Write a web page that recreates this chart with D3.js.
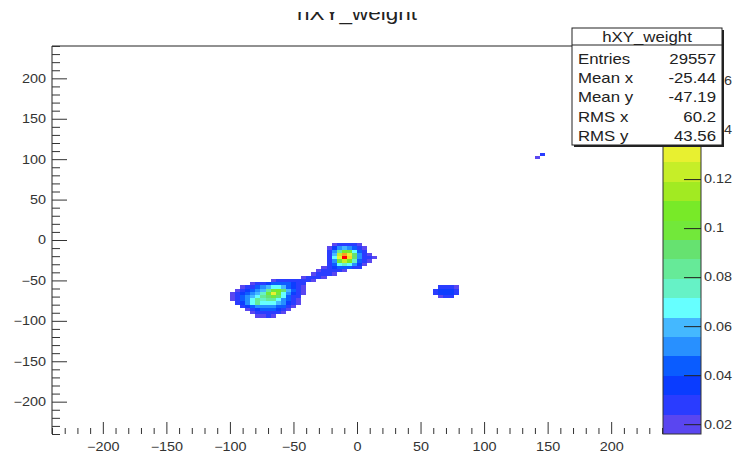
<!DOCTYPE html>
<html><head><meta charset="utf-8">
<script src="https://cdn.jsdelivr.net/npm/d3@7"></script>
<style>body{margin:0;background:#fff}svg{display:block}text{font-family:"Liberation Sans",Arial,Helvetica,sans-serif}</style>
</head><body>
<svg id="c" width="735" height="453"></svg>
<script>
// ---------- data ----------
const chartTitle = "hXY_weight";
const xTickValues = [-200,-150,-100,-50,0,50,100,150,200];
const yTickValues = [-200,-150,-100,-50,0,50,100,150,200];
const zTickValues = [0.02,0.04,0.06,0.08,0.1,0.12,0.14,0.16];
const zRange = [0.016, 0.1743];
const palette = ["#5a46f0","#2a3cff","#0a3cff","#0a5cff","#2890ff","#44b8ff","#66ffff","#66f2c6",
                 "#66ea98","#66e270","#72e83a","#78ea28","#a2ea22","#c6ee28","#e8f030","#f8d828",
                 "#f8a020","#f87818","#f83c10","#ff0000"];
const statsLabels = ["Entries","Mean x","Mean y","RMS x","RMS y"];
const statsValues = ["29557","-25.44","-47.19","60.2","43.56"];
const binWidth = 4;
// each row: lower y edge of the bin row, lower x edge of the first bin, bin contents
const rowY  = [-8,-12,-16,-20,-24,-28,-32,-36,-40,
               -44,-48,
               -52,-56,-60,-64,-68,-72,-76,-80,-84,-88,-92,-96,
               -60,-64,-68,-72,
               104,100];
const rowX0 = [-20,-24,-24,-24,-24,-24,-24,-28,-32,
               -36,-44,
               -68,-84,-92,-96,-100,-100,-100,-96,-92,-88,-84,-80,
               64,60,60,64,
               144,140];
const rowVals = [
  [0.02,0.028,0.03,0.03,0.025,0.02],
  [0.02,0.035,0.05,0.06,0.055,0.04,0.03,0.02],
  [0.028,0.05,0.085,0.11,0.10,0.07,0.04,0.025],
  [0.03,0.06,0.12,0.15,0.13,0.09,0.05,0.028,0.02],
  [0.03,0.065,0.13,0.172,0.14,0.095,0.055,0.03,0.025,0.02],
  [0.028,0.055,0.10,0.12,0.11,0.075,0.045,0.028,0.02],
  [0.025,0.04,0.065,0.075,0.07,0.05,0.035,0.02],
  [0.02,0.03,0.035,0.045,0.045,0.04,0.03,0.025],
  [0.02,0.028,0.03,0.028,0.025,0.02],
  [0.02,0.028,0.03,0.025,0.02],
  [0.02,0.028,0.03,0.028,0.02],
  [0.02,0.025,0.028,0.03,0.03,0.03,0.03,0.028,0.02],
  [0.02,0.025,0.03,0.035,0.04,0.045,0.045,0.04,0.035,0.03,0.025],
  [0.02,0.025,0.03,0.04,0.05,0.06,0.07,0.07,0.06,0.045,0.035,0.03,0.02],
  [0.02,0.03,0.035,0.04,0.05,0.06,0.08,0.10,0.105,0.09,0.06,0.04,0.03,0.02],
  [0.02,0.028,0.035,0.045,0.05,0.06,0.075,0.10,0.13,0.10,0.07,0.05,0.035,0.025,0.02],
  [0.02,0.03,0.04,0.05,0.06,0.07,0.08,0.095,0.10,0.09,0.065,0.045,0.03,0.025],
  [0.02,0.028,0.04,0.055,0.07,0.085,0.075,0.08,0.085,0.07,0.055,0.04,0.03,0.02],
  [0.025,0.035,0.05,0.065,0.08,0.07,0.065,0.065,0.06,0.05,0.035,0.025,0.02],
  [0.025,0.035,0.045,0.055,0.055,0.055,0.05,0.045,0.04,0.03,0.02],
  [0.02,0.03,0.035,0.04,0.045,0.04,0.035,0.03,0.02],
  [0.02,0.025,0.03,0.03,0.028,0.025,0.02],
  [0.02,0.02,0.025,0.02],
  [0.025,0.03,0.028,0.02],
  [0.025,0.032,0.035,0.035,0.03],
  [0.025,0.032,0.035,0.032,0.025],
  [0.02,0.028,0.025],
  [0.03],
  [0.02]
];

// ---------- layout ----------
const F = {left:52, right:662, top:46, bottom:434};
const CB = {left:663, right:701};
const STRETCH = 1.2;   // reference text is horizontally stretched
const svg = d3.select("#c");
const defs = svg.append("defs");
defs.append("filter").attr("id","soft").append("feGaussianBlur").attr("stdDeviation",0.5);
const x = d3.scaleLinear().domain([-240,240]).range([F.left,F.right]);
const y = d3.scaleLinear().domain([-240,240]).range([F.bottom,F.top]);
const z = d3.scaleLinear().domain(zRange).range([F.bottom,F.top]);
const color = d3.scaleQuantize().domain(zRange).range(palette);

function stretchText(sel){
  sel.each(function(){
    const t = d3.select(this);
    const ax = +(t.attr("x")||0);
    t.attr("transform",`translate(${ax},0) scale(${STRETCH},1) translate(${-ax},0)`);
  });
}

// title (top part cut off as in the reference)
defs.append("clipPath").attr("id","tclip").append("rect").attr("x",0).attr("y",12).attr("width",735).attr("height",30);
svg.append("text").attr("clip-path","url(#tclip)").attr("x",357).attr("y",20)
  .attr("text-anchor","middle").attr("font-size",20).attr("textLength",120).attr("lengthAdjust","spacingAndGlyphs")
  .attr("fill","#222").text(chartTitle);

// cells
const cells = [];
rowVals.forEach((vals,r)=>vals.forEach((v,j)=>{ if(v>0) cells.push({x0:rowX0[r]+j*binWidth, y0:rowY[r], v}); }));
svg.append("g").attr("filter","url(#soft)").selectAll("rect").data(cells).join("rect")
  .attr("x",d=>x(d.x0)).attr("y",d=>y(d.y0+binWidth))
  .attr("width",d=>x(d.x0+binWidth)-x(d.x0)).attr("height",d=>y(d.y0)-y(d.y0+binWidth))
  .attr("fill",d=>color(d.v)).attr("shape-rendering","crispEdges");

// frame lines
svg.append("line").attr("x1",F.left).attr("x2",F.right).attr("y1",F.top).attr("y2",F.top).attr("stroke","#222");
svg.append("line").attr("x1",F.left).attr("x2",F.left).attr("y1",F.top).attr("y2",F.bottom).attr("stroke","#222");

// y axis
const yMinor = d3.range(-240,241,10).filter(v=>v%50!==0);
const gy = svg.append("g").attr("transform",`translate(${F.left},0)`);
gy.append("g").call(d3.axisLeft(y).tickValues(yMinor).tickSize(-8).tickFormat("")).call(g=>g.select(".domain").remove());
gy.append("g").call(d3.axisLeft(y).tickValues(yTickValues).tickSize(-15).tickPadding(6)).call(g=>g.select(".domain").remove());
gy.selectAll("text").attr("font-size",12).attr("fill","#333").attr("font-family","Liberation Sans, Arial").call(stretchText);
gy.selectAll("line").attr("stroke","#333");

// x axis
const xMinor = d3.range(-240,241,10).filter(v=>v%50!==0);
const gx = svg.append("g").attr("transform",`translate(0,${F.bottom})`);
gx.append("g").call(d3.axisBottom(x).tickValues(xMinor).tickSize(-6).tickFormat("")).call(g=>g.select(".domain").remove());
gx.append("g").call(d3.axisBottom(x).tickValues(xTickValues).tickSize(-12).tickPadding(8)).call(g=>g.select(".domain").remove());
gx.selectAll("text").attr("font-size",12).attr("fill","#333").attr("font-family","Liberation Sans, Arial").call(stretchText);
gx.selectAll("line").attr("stroke","#333");

// colour bar
const bands = palette.map((c,i)=>({c, lo: zRange[0]+i*(zRange[1]-zRange[0])/palette.length, hi: zRange[0]+(i+1)*(zRange[1]-zRange[0])/palette.length}));
svg.append("g").selectAll("rect").data(bands).join("rect")
  .attr("x",CB.left).attr("width",CB.right-CB.left)
  .attr("y",d=>z(d.hi)).attr("height",d=>z(d.lo)-z(d.hi)).attr("fill",d=>d.c).attr("shape-rendering","crispEdges");
svg.append("rect").attr("x",CB.left).attr("y",F.top).attr("width",CB.right-CB.left).attr("height",F.bottom-F.top)
  .attr("fill","none").attr("stroke","#333");
const gz = svg.append("g").attr("transform",`translate(${CB.right},0)`)
  .call(d3.axisRight(z).tickValues(zTickValues).tickSize(-17).tickPadding(3).tickFormat(d=>String(+d.toFixed(2))))
  .call(g=>g.select(".domain").remove());
gz.selectAll("text").attr("font-size",12).attr("fill","#333").attr("font-family","Liberation Sans, Arial").call(stretchText);
gz.selectAll("line").attr("stroke","#222");

// stats box
const S = {x:572, y:28, w:150, h:117};
svg.append("rect").attr("x",S.x+2).attr("y",S.y+2).attr("width",S.w).attr("height",S.h).attr("fill","#222");
svg.append("rect").attr("x",S.x).attr("y",S.y).attr("width",S.w).attr("height",S.h).attr("fill","#fff").attr("stroke","#222");
svg.append("line").attr("x1",S.x).attr("x2",S.x+S.w).attr("y1",S.y+17).attr("y2",S.y+17).attr("stroke","#222");
svg.append("text").attr("x",S.x+S.w/2).attr("y",S.y+14).attr("text-anchor","middle").attr("font-size",14)
  .attr("fill","#222").text(chartTitle).call(stretchText);
const rowH = 19.2;
statsLabels.forEach((l,i)=>{
  const yy = S.y + 36 + i*rowH;
  svg.append("text").attr("x",S.x+6).attr("y",yy).attr("font-size",14).attr("fill","#222").text(l).call(stretchText);
  svg.append("text").attr("x",S.x+S.w-6).attr("y",yy).attr("text-anchor","end").attr("font-size",14).attr("fill","#222").text(statsValues[i]).call(stretchText);
});
</script>
</body></html>
